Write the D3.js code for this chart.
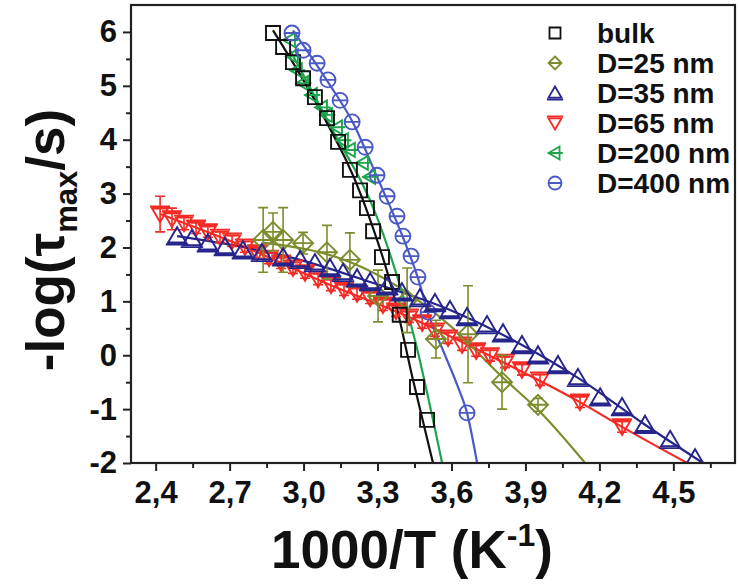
<!DOCTYPE html>
<html>
<head>
<meta charset="utf-8">
<script src="https://cdn.jsdelivr.net/npm/d3@7/dist/d3.min.js"></script>
<style>
  body { margin: 0; background: #fff; }
  svg { display: block; }
  text { font-family: "Liberation Sans", Arial, sans-serif; font-weight: bold; fill: #111; }
</style>
</head>
<body>
<script>
// values: [1000/T, -log(tau)]
const bulk = [[2.876,5.98],[2.917,5.72],[2.957,5.44],[2.998,5.14],[3.046,4.79],[3.095,4.40],[3.140,3.96],
  [3.188,3.44],[3.229,3.06],[3.257,2.73],[3.282,2.30],[3.318,1.82],[3.359,1.36],[3.390,0.75],[3.424,0.10],
  [3.460,-0.59],[3.501,-1.20]];
const bulkFit = [[2.876,6.03],[3.067,4.55],[3.241,2.88],[3.371,1.02],[3.444,-0.46],[3.525,-2.0]];

const d25 = [[2.836,2.14],[2.876,2.29],[2.917,2.14],[2.998,2.08],[3.095,1.91],[3.188,1.77],[3.302,1.10],
  [3.420,1.02],[3.537,0.30],[3.667,0.39],[3.805,-0.50],[3.951,-0.92]];
const d25Err = [0.6,0.35,0.6,0.2,0.5,0.5,0.48,0.6,0.35,0.9,0.5,0.12];
const d25Fit = [[2.836,2.09],[3.188,1.73],[3.391,1.25],[3.594,0.55],[3.805,-0.40],[3.959,-1.05],[4.142,-2.0]];

const d35 = [[2.487,2.21],[2.547,2.16],[2.612,2.08],[2.681,2.01],[2.754,1.95],[2.831,1.90],[2.917,1.82],
  [2.986,1.77],[3.046,1.71],[3.107,1.62],[3.160,1.53],[3.217,1.43],[3.270,1.36],[3.339,1.28],[3.399,1.17],
  [3.472,1.06],[3.533,0.97],[3.594,0.84],[3.663,0.71],[3.744,0.56],[3.809,0.41],[3.886,0.19],[3.951,0.00],
  [4.032,-0.18],[4.113,-0.42],[4.203,-0.78],[4.292,-0.96],[4.385,-1.29],[4.487,-1.57],[4.588,-1.91]];
const d35Fit = [[2.487,2.21],[2.986,1.77],[3.270,1.36],[3.594,0.84],[3.886,0.19],[4.113,-0.42],[4.385,-1.29],[4.620,-2.0]];

const d65 = [[2.418,2.62],[2.466,2.53],[2.515,2.45],[2.564,2.36],[2.612,2.29],[2.661,2.19],[2.710,2.12],
  [2.762,2.01],[2.811,1.90],[2.860,1.80],[2.909,1.71],[2.957,1.62],[3.006,1.53],[3.059,1.41],[3.111,1.30],
  [3.164,1.21],[3.217,1.14],[3.270,1.06],[3.322,0.93],[3.375,0.82],[3.428,0.71],[3.481,0.60],[3.533,0.45],
  [3.586,0.32],[3.643,0.19],[3.700,0.08],[3.756,-0.01],[3.817,-0.13],[3.886,-0.27],[3.959,-0.46],
  [4.121,-0.87],[4.292,-1.33]];
const d65Err = [0.33,0.2,0.12,0.1,0.1,0.1,0.1,0.1,0.1,0.1,0.1,0.1,0.1,0.1,0.1,0.1,0.1,0.1,0.1,0.1,
  0.1,0.1,0.1,0.1,0.1,0.1,0.1,0.1,0.1,0.1,0.1,0.1];
const d65Fit = [[2.418,2.62],[2.762,2.01],[3.111,1.30],[3.428,0.71],[3.756,-0.01],[4.121,-0.87],[4.292,-1.33],[4.556,-2.0]];

const d200 = [[2.945,5.85],[2.957,5.55],[2.973,5.29],[2.998,5.05],[3.034,4.83],[3.075,4.60],[3.095,4.46],
  [3.136,4.23],[3.160,3.99],[3.188,3.81],[3.241,3.57],[3.270,3.31]];
const d200Fit = [[2.945,5.66],[3.107,4.27],[3.302,2.51],[3.452,0.28],[3.562,-2.0]];

const d400 = [[2.953,5.98],[2.998,5.66],[3.055,5.42],[3.099,5.11],[3.148,4.73],[3.197,4.33],[3.250,3.86],
  [3.298,3.34],[3.339,2.95],[3.379,2.58],[3.403,2.21],[3.436,1.84],[3.464,1.45],[3.505,0.80],[3.663,-1.07]];
const d400Fit = [[2.957,6.03],[3.099,5.07],[3.201,4.31],[3.298,3.31],[3.403,2.19],[3.464,1.43],[3.505,0.78],
  [3.574,0.00],[3.623,-0.55],[3.663,-1.07],[3.704,-2.0]];

const seriesNames = ["bulk", "D=25 nm", "D=35 nm", "D=65 nm", "D=200 nm", "D=400 nm"];
const xMajor = [2.4, 2.7, 3.0, 3.3, 3.6, 3.9, 4.2, 4.5];
const xMinor = [2.55, 2.85, 3.15, 3.45, 3.75, 4.05, 4.35, 4.65];
const yMajor = [-2, -1, 0, 1, 2, 3, 4, 5, 6];
const yMinor = [-1.5, -0.5, 0.5, 1.5, 2.5, 3.5, 4.5, 5.5];

const W = 739, H = 585;
const svg = d3.select("body").append("svg").attr("width", W).attr("height", H);

const x = d3.scaleLinear().domain([2.3, 4.75]).range([131, 735]);
const y = d3.scaleLinear().domain([-2, 6.5]).range([463, 5]);

svg.append("clipPath").attr("id", "clip")
  .append("rect").attr("x", 131).attr("y", 5).attr("width", 604).attr("height", 458);

// marker shapes
function shapePath(kind, s) {
  switch (kind) {
    case "square": return `M${-s},${-s}h${2*s}v${2*s}h${-2*s}Z`;
    case "diamond": return `M0,${-s}L${s},0L0,${s}L${-s},0Z M${-s},0H${s}`;
    case "up": return `M0,${-s}L${s},${s*0.7}L${-s},${s*0.7}Z M${-s*1.25},${s*0.7+2}H${s*1.25}`;
    case "down": return `M0,${s}L${s},${-s*0.7}L${-s},${-s*0.7}Z M${-s*1.25},${-s*0.7-2}H${s*1.25}`;
    case "left": return `M${-s},0L${s*0.7},${-s}L${s*0.7},${s}Z M${-s*1.1},0H${s*1.2}`;
    case "circle": return `M${s},0A${s},${s} 0 1 1 ${-s},0A${s},${s} 0 1 1 ${s},0Z M${-s},0H${s}`;
  }
}

const series = [
  { name: seriesNames[3], data: d65, fit: d65Fit, err: d65Err, color: "#f42a24", shape: "down", size: 8 },
  { name: seriesNames[1], data: d25, fit: d25Fit, err: d25Err, color: "#7d8c2c", shape: "diamond", size: 10 },
  { name: seriesNames[4], data: d200, fit: d200Fit, err: null, color: "#1ea44c", shape: "left", size: 7 },
  { name: seriesNames[0], data: bulk, fit: bulkFit, err: null, color: "#111111", shape: "square", size: 7 },
  { name: seriesNames[5], data: d400, fit: d400Fit, err: null, color: "#4b58c8", shape: "circle", size: 7.5 },
  { name: seriesNames[2], data: d35, fit: d35Fit, err: null, color: "#25258c", shape: "up", size: 9 }
];

const plot = svg.append("g").attr("clip-path", "url(#clip)");
const line = d3.line().x(d => x(d[0])).y(d => y(d[1])).curve(d3.curveMonotoneX);

// fit lines
series.forEach(s => {
  plot.append("path").datum(s.fit)
    .attr("fill", "none").attr("stroke", s.color).attr("stroke-width", 2.2)
    .attr("d", line);
});

// error bars and markers
series.forEach(s => {
  const g = plot.append("g");
  if (s.err) {
    g.selectAll(".eb").data(s.data).join("path")
      .attr("fill", "none").attr("stroke", s.color).attr("stroke-width", 1.6)
      .attr("d", (d, i) => {
        const xx = x(d[0]), y1 = y(d[1] + s.err[i]), y2 = y(d[1] - s.err[i]);
        return `M${xx},${y1}V${y2}M${xx-5},${y1}H${xx+5}M${xx-5},${y2}H${xx+5}`;
      });
  }
  g.selectAll(".mk").data(s.data).join("path")
    .attr("transform", d => `translate(${x(d[0])},${y(d[1])})`)
    .attr("d", shapePath(s.shape, s.size))
    .attr("fill", "none").attr("stroke", s.color).attr("stroke-width", 1.9);
});

// axes
const xAxis = svg.append("g").attr("transform", "translate(0,463)")
  .call(d3.axisBottom(x).tickValues(xMajor).tickSize(8).tickPadding(10)
    .tickFormat(d => d.toFixed(1).replace(".", ",")));
svg.append("g").attr("transform", "translate(0,463)")
  .call(d3.axisBottom(x).tickValues(xMinor).tickSize(5).tickFormat(""));
const yAxis = svg.append("g").attr("transform", "translate(131,0)")
  .call(d3.axisLeft(y).tickValues(yMajor).tickSize(8).tickPadding(6)
    .tickFormat(d => String(d)));
svg.append("g").attr("transform", "translate(131,0)")
  .call(d3.axisLeft(y).tickValues(yMinor).tickSize(5).tickFormat(""));

svg.selectAll(".domain").remove();
svg.selectAll(".tick line").attr("stroke", "#222").attr("stroke-width", 2);
xAxis.selectAll("text").attr("font-size", 31).attr("fill", "#111");
yAxis.selectAll("text").attr("font-size", 31).attr("fill", "#111");

// frame
svg.append("rect").attr("x", 131).attr("y", 5).attr("width", 604).attr("height", 458)
  .attr("fill", "none").attr("stroke", "#222").attr("stroke-width", 2.2);

// axis titles
const xt = svg.append("text").attr("x", 412).attr("y", 568).attr("text-anchor", "middle")
  .attr("font-size", 53);
xt.append("tspan").text("1000/T (K");
xt.append("tspan").attr("font-size", 32).attr("dy", -22).text("-1");
xt.append("tspan").attr("dy", 22).text(")");

const yt = svg.append("text").attr("transform", "translate(64,240) rotate(-90)")
  .attr("text-anchor", "middle").attr("font-size", 53);
yt.append("tspan").text("-log(\u03c4");
yt.append("tspan").attr("font-size", 31).attr("dy", 13).text("max");
yt.append("tspan").attr("dy", -13).text("/s)");

// legend
const legendOrder = [3, 1, 5, 0, 2, 4];
const leg = svg.append("g");
legendOrder.forEach((si, i) => {
  const s = series[si];
  const cy = 33 + i * 30;
  leg.append("path").attr("transform", `translate(555,${cy})`)
    .attr("d", shapePath(s.shape, s.shape === "square" ? 5.5 : 6.5))
    .attr("fill", "none").attr("stroke", s.color).attr("stroke-width", 1.8);
  leg.append("text").attr("x", 597).attr("y", cy).attr("dy", "0.36em")
    .attr("font-size", 28).text(s.name);
});
</script>
</body>
</html>
